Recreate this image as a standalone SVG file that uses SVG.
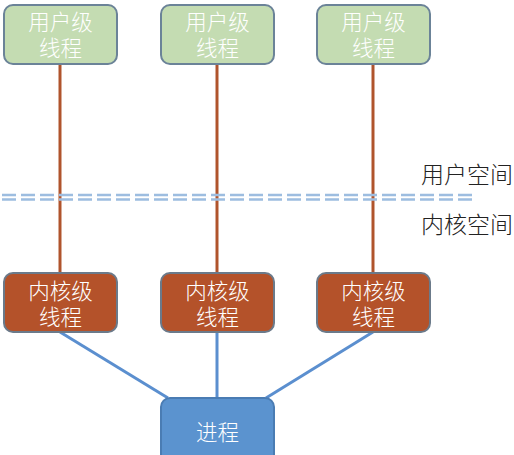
<svg xmlns="http://www.w3.org/2000/svg" width="514" height="455" viewBox="0 0 514 455">
<style>
.user{fill:#c4dcb2;stroke:#6b8398;stroke-width:2}
.kern{fill:#b4522a;stroke:#6b7a8a;stroke-width:2}
.proc{fill:#5b93cf;stroke:#4a7cb3;stroke-width:2}
.t{font-family:"Liberation Sans","Noto Sans CJK SC",sans-serif;font-size:21.5px;font-weight:300;fill:#ffffff;text-anchor:middle}
.lab{font-family:"Liberation Sans","Noto Sans CJK SC",sans-serif;font-size:23px;font-weight:300;fill:#222222;text-anchor:end}
.brown{stroke:#b0542c;stroke-width:3;fill:none}
.blue{stroke:#5b8fcf;stroke-width:3;fill:none}
.dash{stroke:#9dbde0;stroke-width:2.5;stroke-dasharray:14 5;fill:none}
</style>
<rect width="514" height="455" fill="#ffffff"/>
<g id="connectors">
<line class="brown" x1="60" y1="64" x2="60" y2="273"/>
<line class="brown" x1="217" y1="64" x2="217" y2="273"/>
<line class="brown" x1="373" y1="64" x2="373" y2="273"/>
<line class="blue" x1="60" y1="332" x2="168" y2="398"/>
<line class="blue" x1="217" y1="332" x2="217" y2="398"/>
<line class="blue" x1="373" y1="332" x2="266" y2="398"/>
</g>
<g id="boundary">
<line class="dash" x1="2" y1="195" x2="472" y2="195"/>
<line class="dash" x1="2" y1="199.5" x2="472" y2="199.5"/>
</g>
<text class="lab" x="513" y="183">用户空间</text>
<text class="lab" x="513" y="233">内核空间</text>
<g id="user1"><rect class="user" x="4" y="5" width="113" height="59" rx="9"/><text class="t" x="60.5" y="30">用户级</text><text class="t" x="60.5" y="56">线程</text></g>
<g id="user2"><rect class="user" x="161" y="5" width="113" height="59" rx="9"/><text class="t" x="217.5" y="30">用户级</text><text class="t" x="217.5" y="56">线程</text></g>
<g id="user3"><rect class="user" x="317" y="5" width="113" height="59" rx="9"/><text class="t" x="373.5" y="30">用户级</text><text class="t" x="373.5" y="56">线程</text></g>
<g id="kern1"><rect class="kern" x="4" y="273" width="113" height="59" rx="9"/><text class="t" x="60.5" y="299">内核级</text><text class="t" x="60.5" y="325">线程</text></g>
<g id="kern2"><rect class="kern" x="161" y="273" width="113" height="59" rx="9"/><text class="t" x="217.5" y="299">内核级</text><text class="t" x="217.5" y="325">线程</text></g>
<g id="kern3"><rect class="kern" x="317" y="273" width="113" height="59" rx="9"/><text class="t" x="373.5" y="299">内核级</text><text class="t" x="373.5" y="325">线程</text></g>
<g id="process"><rect class="proc" x="161" y="398" width="113" height="70" rx="9"/><text class="t" x="217.5" y="440">进程</text></g>
</svg>
